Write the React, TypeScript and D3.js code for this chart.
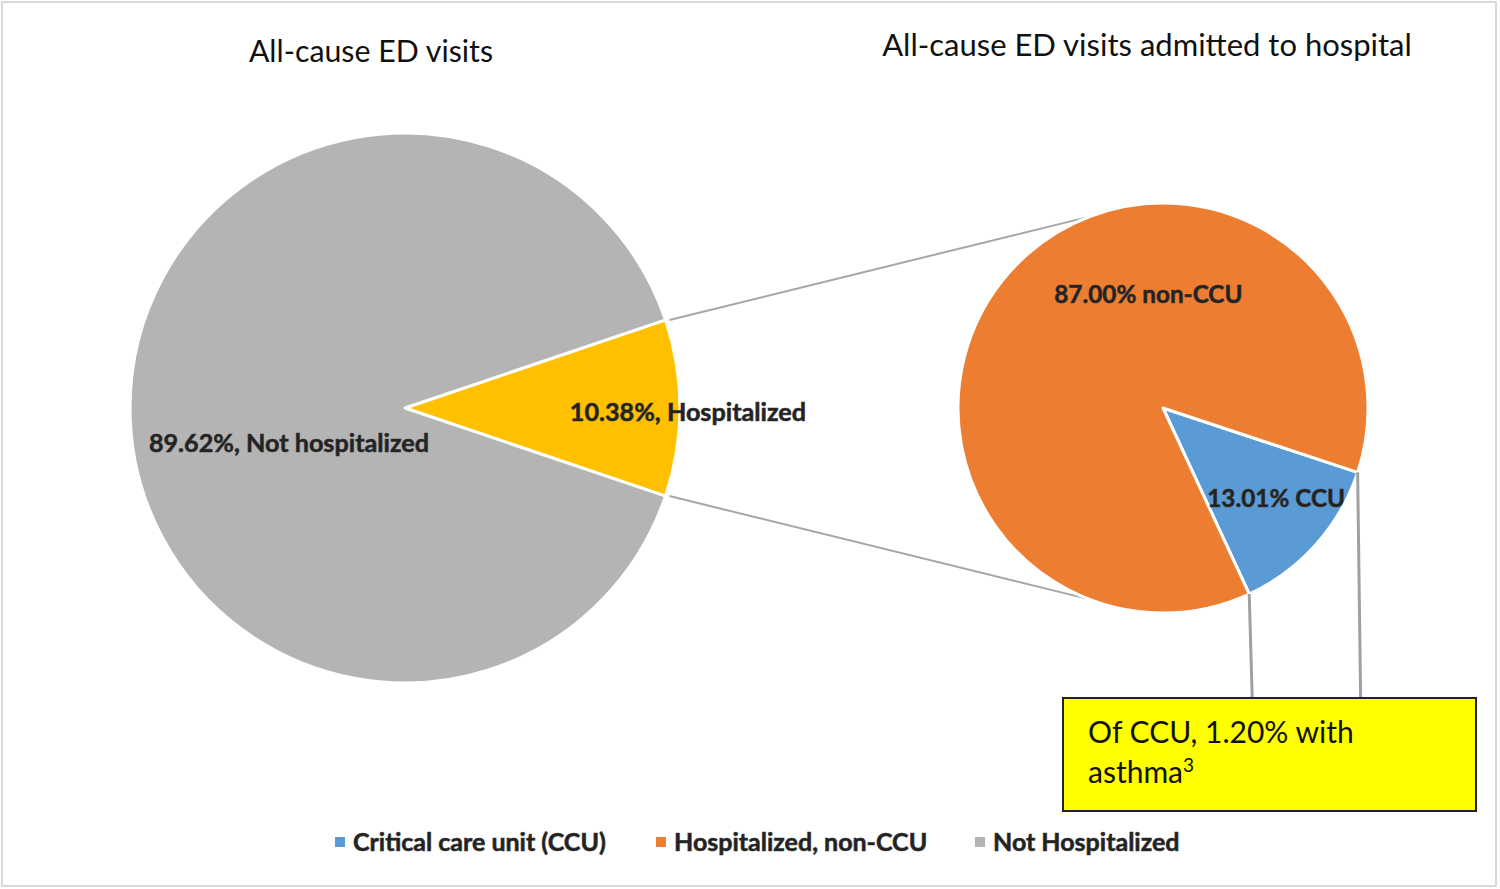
import React from "react";
import * as d3 from "d3";

const W = 1500;
const H = 889;

// Left pie: all-cause ED visits
const leftCategories = ["Hospitalized", "Not hospitalized"];
const leftValues = [10.38, 89.62];
const leftColors = ["#ffc000", "#b4b4b4"];
const leftLabels = ["10.38%, Hospitalized", "89.62%, Not hospitalized"];

// Right pie: admitted to hospital
const rightCategories = ["Critical care unit (CCU)", "Hospitalized, non-CCU"];
const rightValues = [13.01, 87.0];
const rightColors = ["#5b9bd5", "#ed7d31"];
const rightLabels = ["13.01% CCU", "87.00% non-CCU"];

const legendItems = ["Critical care unit (CCU)", "Hospitalized, non-CCU", "Not Hospitalized"];
const legendColors = ["#5b9bd5", "#ed7d31", "#b4b4b4"];

const titles = ["All-cause ED visits", "All-cause ED visits admitted to hospital"];
const calloutLines = ["Of CCU, 1.20% with", "asthma"];

const FONT = "Lato, 'Open Sans', sans-serif";

export default function App() {
  const L = { cx: 405, cy: 408, r: 275 };
  const R = { cx: 1163, cy: 408, r: 205 };

  const totalL = d3.sum(leftValues);
  const yellowAngle = (leftValues[0] / totalL) * 2 * Math.PI;
  const leftStart = Math.PI / 2 - yellowAngle / 2;
  const leftPie = d3
    .pie<number>()
    .sort(null)
    .startAngle(leftStart)
    .endAngle(leftStart + 2 * Math.PI)(leftValues);

  const rightStart = Math.PI / 2 + (18.3 * Math.PI) / 180;
  const rightPie = d3
    .pie<number>()
    .sort(null)
    .startAngle(rightStart)
    .endAngle(rightStart + 2 * Math.PI)(rightValues);

  const arcL = d3.arc<d3.PieArcDatum<number>>().innerRadius(0).outerRadius(L.r);
  const arcR = d3.arc<d3.PieArcDatum<number>>().innerRadius(0).outerRadius(R.r);

  // point on circle at d3 angle (0 = 12 o'clock, clockwise)
  const pt = (c: { cx: number; cy: number }, r: number, a: number) => [
    c.cx + r * Math.sin(a),
    c.cy - r * Math.cos(a),
  ];

  const y0 = leftPie[0];
  const topL = pt(L, L.r, y0.startAngle);
  const botL = pt(L, L.r, y0.endAngle);
  const aTop = (-21 * Math.PI) / 180; // d3 angle for upper tangent point on right pie
  const aBot = Math.PI + (21 * Math.PI) / 180;
  const topR = pt(R, R.r, aTop);
  const botR = pt(R, R.r, aBot);

  const blue = rightPie[0];
  const b1 = pt(R, R.r, blue.startAngle);
  const b2 = pt(R, R.r, blue.endAngle);

  const box = { x: 1063, y: 698, w: 413, h: 113 };

  // label positions (polar, relative to pie centres)
  const leftLabelPos = [
    pt(L, 283, Math.PI / 2 + 0.022),
    pt(L, 122, (252 * Math.PI) / 180),
  ];
  const rightLabelPos = [pt(R, 146, (129.2 * Math.PI) / 180), pt(R, 112, (-7.5 * Math.PI) / 180)];

  const legendX = [335, 656, 975];

  const labelStyle: React.CSSProperties = {
    fontFamily: FONT,
    fontWeight: 700,
    fontSize: 24,
    fill: "#222",
    stroke: "#333",
    strokeWidth: 0.6,
  };

  return (
    <svg
      width={W}
      height={H}
      style={{ position: "absolute", left: 0, top: 0, background: "#fff" }}
    >
      <rect x={2} y={2} width={1494} height={884} fill="#fff" stroke="#d9d9d9" strokeWidth={2} />

      <text x={371} y={62} textAnchor="middle" style={{ fontFamily: FONT, fontSize: 30.3, fill: "#111" }}>
        {titles[0]}
      </text>
      <text x={1147} y={56} textAnchor="middle" style={{ fontFamily: FONT, fontSize: 31, fill: "#111" }}>
        {titles[1]}
      </text>

      {/* connector lines */}
      <line x1={topL[0] + 4} y1={topL[1]} x2={topR[0]} y2={topR[1]} stroke="#a6a6a6" strokeWidth={2} />
      <line x1={botL[0] + 4} y1={botL[1]} x2={botR[0]} y2={botR[1]} stroke="#a6a6a6" strokeWidth={2} />

      <g transform={`translate(${L.cx},${L.cy})`}>
        {leftPie.map((d, i) => (
          <path key={leftCategories[i]} d={arcL(d) || ""} fill={leftColors[i]} stroke="#fff" strokeWidth={3} strokeLinejoin="round" />
        ))}
      </g>
      <g transform={`translate(${R.cx},${R.cy})`}>
        {rightPie.map((d, i) => (
          <path key={rightCategories[i]} d={arcR(d) || ""} fill={rightColors[i]} stroke="#fff" strokeWidth={3} strokeLinejoin="round" />
        ))}
      </g>

      {leftLabels.map((t, i) => (
        <text key={t} x={leftLabelPos[i][0]} y={leftLabelPos[i][1]} textAnchor="middle" dominantBaseline="middle" style={{ ...labelStyle, fontSize: 25.2 }}>
          {t}
        </text>
      ))}
      {rightLabels.map((t, i) => (
        <text key={t} x={rightLabelPos[i][0]} y={rightLabelPos[i][1]} textAnchor="middle" dominantBaseline="middle" style={{ ...labelStyle, fontSize: 24.3 }}>
          {t}
        </text>
      ))}

      {/* callout */}
      <line x1={b1[0]} y1={b1[1]} x2={b1[0] + 3} y2={box.y} stroke="#a0a0a0" strokeWidth={3} />
      <line x1={b2[0]} y1={b2[1]} x2={b2[0] + 3} y2={box.y} stroke="#a0a0a0" strokeWidth={3} />
      <rect x={box.x} y={box.y} width={box.w} height={box.h} fill="#ffff00" stroke="#222" strokeWidth={2} />
      <text x={box.x + 25} y={box.y + 45} style={{ fontFamily: FONT, fontSize: 30, fill: "#111" }}>
        {calloutLines[0]}
      </text>
      <text x={box.x + 25} y={box.y + 85} style={{ fontFamily: FONT, fontSize: 30, fill: "#111" }}>
        {calloutLines[1]}
        <tspan fontSize={19} dy={-11}>3</tspan>
      </text>

      {/* legend */}
      {legendItems.map((t, i) => (
        <g key={t}>
          <rect x={legendX[i]} y={837} width={10} height={10} fill={legendColors[i]} />
          <text x={legendX[i] + 18} y={851} style={{ ...labelStyle, fontSize: 25 }}>
            {t}
          </text>
        </g>
      ))}
    </svg>
  );
}
